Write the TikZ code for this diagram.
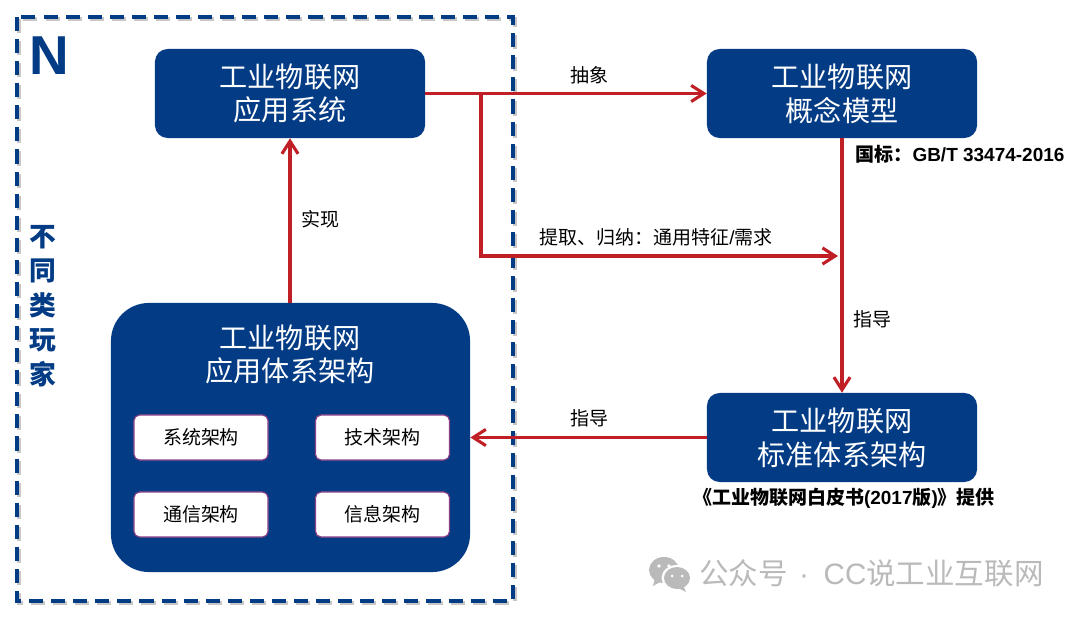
\documentclass[tikz,border=0pt]{standalone}
\usepackage{fontspec}
\usetikzlibrary{arrows.meta}
\setmainfont{Noto Sans CJK SC}
\newfontfamily\latinfont{Liberation Sans}
\definecolor{boxblue}{HTML}{033C85}
\definecolor{linered}{HTML}{C01F26}
\definecolor{markgray}{HTML}{BABABA}
\definecolor{framepurple}{HTML}{8E3F86}
\tikzset{
  bluebox/.style={fill=boxblue, rounded corners=9pt, minimum width=6.75cm, minimum height=2.225cm, inner sep=0pt, text=white, align=center, font=\fontsize{20}{24}\selectfont},
  subbox/.style={draw=framepurple, line width=0.8pt, fill=white, rounded corners=4pt, minimum width=3.35cm, minimum height=1.125cm, inner sep=0pt, font=\fontsize{13.5}{16}\selectfont},
  redline/.style={draw=linered, line width=2.2pt},
  redarrow/.style={redline, -{Straight Barb[length=9pt, width=11.5pt, line width=2.2pt]}},
  edgelabel/.style={inner sep=0pt, font=\fontsize{13.5}{16}\selectfont},
  boldlabel/.style={inner sep=0pt, font=\fontsize{13.5}{16}\selectfont\bfseries},
  sidetext/.style={inner sep=0pt, align=center, font=\fontsize{19}{24.5}\selectfont\bfseries}
}
\begin{document}
\begin{tikzpicture}[x=0.025cm, y=-0.025cm]
  \useasboundingbox[fill=white] (0,0) rectangle (1080,617);
  \draw[black!22, line width=2.4pt, dash pattern=on 10pt off 5.7pt] (19,19) rectangle (515,603);
  \draw[boxblue, line width=2.4pt, dash pattern=on 10pt off 5.7pt] (17,17) rectangle (513,601);
  \node[text=boxblue, inner sep=0pt, font=\fontsize{39}{39}\selectfont\latinfont\bfseries] (letter) at (49,56) {N};
  \node[sidetext, text=boxblue] (side) at (43,306) {不\\同\\类\\玩\\家};

  \node[bluebox] (appsys) at (290,93.5) {工业物联网\\应用系统};
  \node[bluebox] (concept) at (842,93.5) {工业物联网\\概念模型};
  \node[bluebox] (standard) at (842,437.5) {工业物联网\\标准体系架构};
  \node[fill=boxblue, rounded corners=27pt, minimum width=8.975cm, minimum height=6.725cm, inner sep=0pt] (arch) at (290.5,437.5) {};
  \node[text=white, inner sep=0pt, align=center, font=\fontsize{20}{24}\selectfont] (archtitle) at (290,354.5) {工业物联网\\应用体系架构};
  \node[subbox] (sysarch) at (201,437.5) {系统架构};
  \node[subbox] (techarch) at (382.5,437.5) {技术架构};
  \node[subbox] (commarch) at (201,514.5) {通信架构};
  \node[subbox] (infoarch) at (382.5,514.5) {信息架构};

  \coordinate (branch) at (481,93.5);
  \coordinate (corner) at (481,256);
  \coordinate (merge) at (838,256);
  \draw[redarrow] (appsys.east) -- (concept.west);
  \draw[redarrow] (arch.north -| appsys) -- (appsys.south);
  \draw[redarrow] (branch) -- (corner) -- (merge);
  \draw[redarrow] (concept.south) -- (standard.north);
  \draw[redarrow] (standard.west) -- (arch.east);

  \node[edgelabel] (abstract) at (589,75) {抽象};
  \node[edgelabel] (realize) at (320.5,219) {实现};
  \node[edgelabel] (extract) at (656,237) {提取、归纳：通用特征{\latinfont /}需求};
  \node[edgelabel] (guideright) at (872.5,319) {指导};
  \node[edgelabel] (guideleft) at (589,418) {指导};
  \node[boldlabel] (gbnote) at (960,154.5) {国标：{\latinfont GB/T 33474-2016}};
  \node[boldlabel] (booknote) at (844,498.5) {《工业物联网白皮书{\latinfont (2017}版{\latinfont )}》提供};

  \fill[markgray] (664,570) ellipse (15 and 13);
  \fill[markgray] (655,578) -- (653,586) -- (662,581) -- cycle;
  \fill[white] (677,578) ellipse (15.5 and 13);
  \fill[markgray] (677,578) ellipse (13 and 11);
  \fill[markgray] (683,585) -- (686,592) -- (676,587) -- cycle;
  \fill[white] (659,566) circle (1.8) (669,566) circle (1.8) (672,576) circle (1.5) (682,576) circle (1.5);
  \node[text=markgray, inner sep=0pt, anchor=west, font=\fontsize{21}{24}\selectfont] (watermark) at (699,573) {公众号\hspace{8pt}{\latinfont·}\hspace{10.5pt}{\latinfont CC}说工业互联网};
\end{tikzpicture}
\end{document}
